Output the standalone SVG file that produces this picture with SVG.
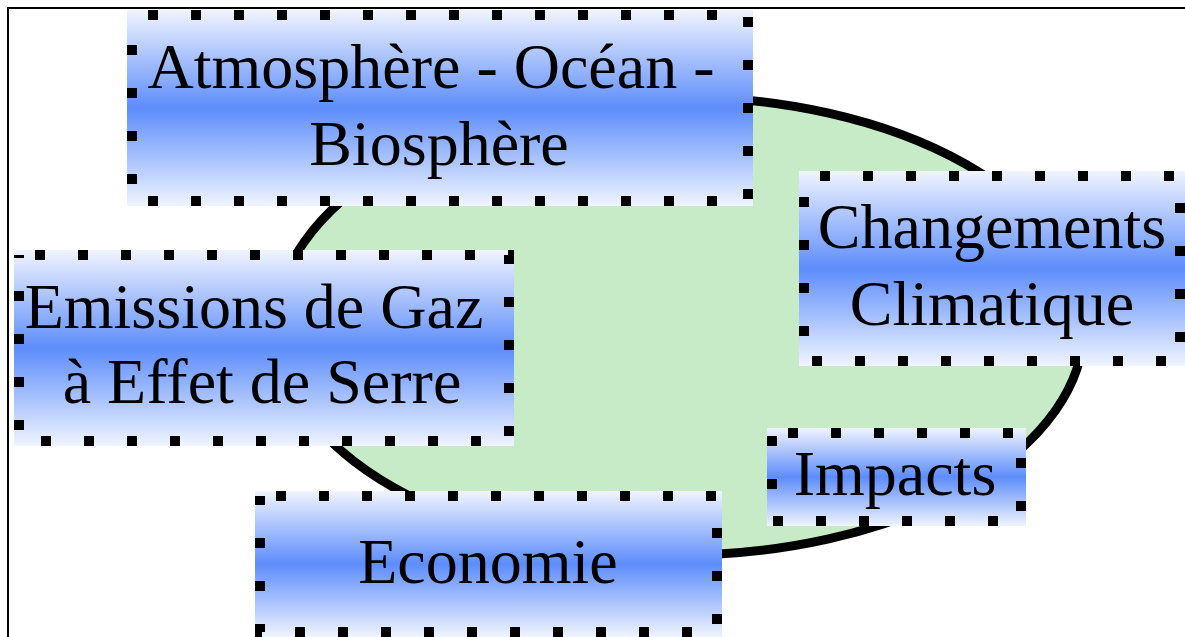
<svg xmlns="http://www.w3.org/2000/svg" width="1185" height="637" viewBox="0 0 1185 637">
  <defs>
    <linearGradient id="blueAxial" x1="0" y1="0" x2="0" y2="1">
      <stop offset="0" stop-color="#f0f4fe"/>
      <stop offset="0.5" stop-color="#5d8dfb"/>
      <stop offset="1" stop-color="#f0f4fe"/>
    </linearGradient>
  </defs>
  <style>
    .fill { fill: url(#blueAxial); stroke: none; }
    .dots { fill: none; stroke: #000; stroke-width: 10; stroke-dasharray: 10 33; stroke-dashoffset: 27; }
    .label { font-family: "Liberation Serif", "Times New Roman", serif; font-size: 64px; fill: #000; text-anchor: middle; }
  </style>
  <rect x="0" y="0" width="1185" height="637" fill="#ffffff"/>
  <rect id="frame" x="8" y="8" width="1200" height="660" fill="none" stroke="#000" stroke-width="2"/>
  <g id="background-ellipse">
    <ellipse cx="680" cy="326" rx="404" ry="229" fill="#c6ebc6" stroke="#000" stroke-width="9"/>
  </g>
  <g id="connectors"></g>
  <g id="atmosphere">
    <rect class="fill" x="127" y="10" width="626" height="196"/>
    <rect class="dots" x="132" y="15" width="616" height="186"/>
    <text class="label" x="431" y="88">Atmosphère - Océan -</text>
    <text class="label" x="439" y="165">Biosphère</text>
  </g>
  <g id="changements">
    <rect class="fill" x="799" y="171" width="386" height="195"/>
    <rect class="dots" x="804" y="176" width="376" height="185"/>
    <text class="label" x="992" y="248">Changements</text>
    <text class="label" x="992" y="325">Climatique</text>
  </g>
  <g id="emissions">
    <rect class="fill" x="14" y="250" width="500" height="196"/>
    <rect class="dots" x="19" y="255" width="490" height="186"/>
    <text class="label" x="254" y="328">Emissions de Gaz</text>
    <text class="label" x="262" y="403">à Effet de Serre</text>
  </g>
  <g id="impacts">
    <rect class="fill" x="767" y="428" width="259" height="98"/>
    <rect class="dots" x="772" y="433" width="249" height="88"/>
    <text class="label" x="895" y="495">Impacts</text>
  </g>
  <g id="economie">
    <rect class="fill" x="255" y="491" width="467" height="146"/>
    <rect class="dots" x="260" y="496" width="457" height="136"/>
    <text class="label" x="488" y="583">Economie</text>
  </g>
</svg>
